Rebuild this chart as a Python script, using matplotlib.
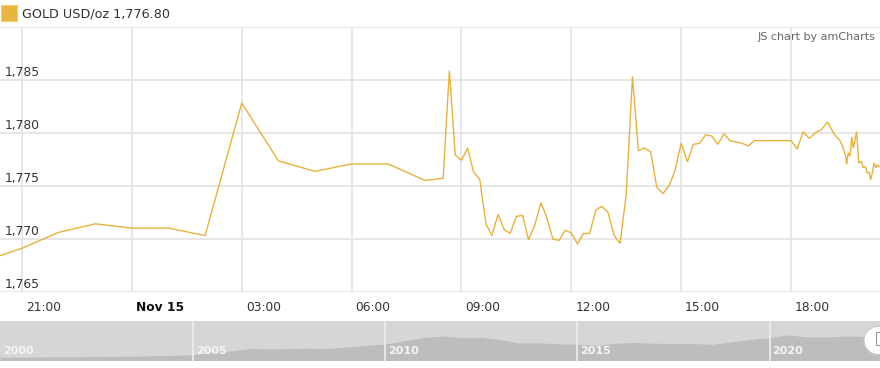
import matplotlib
matplotlib.use("Agg")
import matplotlib.pyplot as plt
from matplotlib import transforms
from matplotlib.patches import Ellipse, Rectangle

# ---- main series: hours relative to Nov 15 00:00, price USD/oz ----
hours = [-3.6, -3.0, -2.0, -1.0, 0.0, 1.0, 2.0, 3.0, 4.0, 5.0, 6.0, 7.0, 8.0, 8.5,
         8.67, 8.83, 9.0, 9.17, 9.33, 9.5, 9.67, 9.83, 10.0, 10.17, 10.33, 10.5,
         10.67, 10.83, 11.0, 11.17, 11.33, 11.5, 11.67, 11.83, 12.0, 12.17, 12.33,
         12.5, 12.67, 12.83, 13.0, 13.17, 13.33, 13.5, 13.67, 13.83, 14.0, 14.17,
         14.33, 14.5, 14.67, 14.83, 15.0, 15.17, 15.33, 15.5, 15.67, 15.83, 16.0,
         16.17, 16.33, 16.67, 16.83, 17.0, 18.0, 18.17, 18.33, 18.5, 18.67, 18.83,
         19.0, 19.17, 19.33, 19.41, 19.49, 19.52, 19.56, 19.61, 19.66, 19.70, 19.74,
         19.79, 19.85, 19.92, 19.97, 20.03, 20.08, 20.14, 20.17, 20.23, 20.27, 20.32,
         20.36, 20.41]
prices = [1768.4, 1769.1, 1770.6, 1771.4, 1771.0, 1771.0, 1770.3, 1782.8, 1777.35,
          1776.35, 1777.05, 1777.05, 1775.5, 1775.7, 1785.85, 1777.9, 1777.4,
          1778.55, 1776.3, 1775.6, 1771.4, 1770.3, 1772.3, 1770.85, 1770.5, 1772.1,
          1772.2, 1769.9, 1771.25, 1773.4, 1772.0, 1769.95, 1769.85, 1770.8,
          1770.55, 1769.5, 1770.5, 1770.5, 1772.7, 1773.05, 1772.5, 1770.3,
          1769.55, 1774.15, 1785.3, 1778.3, 1778.55, 1778.2, 1774.9, 1774.25,
          1775.0, 1776.4, 1779.0, 1777.25, 1778.9, 1779.0, 1779.8, 1779.7, 1778.9,
          1779.9, 1779.25, 1779.0, 1778.75, 1779.25, 1779.25, 1778.45, 1780.1,
          1779.45, 1780.0, 1780.3, 1781.0, 1779.9, 1779.3, 1778.7, 1777.8, 1777.0,
          1778.1, 1777.8, 1779.6, 1778.55, 1779.2, 1780.1, 1777.15, 1777.3, 1776.7,
          1776.8, 1776.2, 1776.25, 1775.55, 1776.35, 1777.15, 1776.7, 1776.95,
          1776.8]

x_ticks = [-3, 0, 3, 6, 9, 12, 15, 18]
x_tick_labels = ["21:00", "Nov 15", "03:00", "06:00", "09:00", "12:00", "15:00", "18:00"]
y_ticks = [1765, 1770, 1775, 1780, 1785]
y_grid_top = 1790

# ---- scrollbar overview series (year, price) ----
sb_years = [2000, 2001, 2002, 2003, 2004, 2005, 2005.5, 2006, 2006.5, 2007, 2008,
            2008.5, 2009, 2009.5, 2010, 2010.5, 2011, 2011.5, 2012, 2012.5, 2013,
            2013.5, 2014, 2014.5, 2015, 2015.5, 2016, 2016.5, 2017, 2018, 2018.5,
            2019, 2019.5, 2020, 2020.5, 2021, 2021.5, 2022, 2022.5, 2022.9]
sb_prices = [285, 292, 314, 350, 386, 458, 660, 732, 912, 876, 934, 912, 1020, 1128,
             1237, 1453, 1705, 1813, 1705, 1720, 1561, 1309, 1323, 1251, 1222, 1143,
             1287, 1345, 1287, 1273, 1215, 1381, 1561, 1705, 1886, 1742, 1742, 1814,
             1778, 1742]
sb_year_labels = [2000, 2005, 2010, 2015, 2020]

LINE = "#e8b23a"
GRID = "#e4e4e4"
TXT = "#333333"
FS = 8.8

W, H = 880, 368
fig = plt.figure(figsize=(W / 100, H / 100), dpi=100)
fig.patch.set_facecolor("white")

# main axes: pixel y 26.7 .. 291.7
ax = fig.add_axes([0, (H - 291.7) / H, 1, (291.7 - 26.7) / H])
ax.set_xlim(-3.602, 20.43)
ax.set_ylim(1765, y_grid_top)
for s in ax.spines.values():
    s.set_visible(False)
ax.set_xticks(x_ticks)
ax.set_yticks(y_ticks + [y_grid_top])
ax.tick_params(length=0, labelbottom=False, labelleft=False)
ax.grid(True, color=GRID, lw=1.3)
ax.set_axisbelow(True)
ax.plot(hours, prices, color=LINE, lw=1.0, solid_joinstyle="miter", clip_on=True)

ytr = transforms.offset_copy(ax.get_yaxis_transform(), fig=fig, x=5, y=0.5, units="dots")
for v in y_ticks:
    ax.text(0, v, f"{v:,}", transform=ytr, ha="left", va="bottom",
            fontsize=FS, color=TXT)

xtr = transforms.offset_copy(ax.get_xaxis_transform(), fig=fig, x=4, y=-16, units="dots")
for t, lab in zip(x_ticks, x_tick_labels):
    ax.text(t, 0, lab, transform=xtr, ha="left", va="center", fontsize=FS,
            color="#111111" if lab.startswith("Nov") else TXT,
            fontweight="bold" if lab.startswith("Nov") else "normal", clip_on=False)

# legend
fig.patches.append(Rectangle((1 / W, (H - 21) / H), 16 / W, 16 / H, transform=fig.transFigure,
                             facecolor="#e8b63f", edgecolor="#f0cf7a", lw=0.8))
fig.text(22 / W, (H - 14) / H, f"GOLD USD/oz {prices[-1]:,.2f}", ha="left", va="center",
         fontsize=9.2, color=TXT)
fig.text(875 / W, (H - 37) / H, "JS chart by amCharts", ha="right", va="center",
         fontsize=8, color="#666666")

# scrollbar: pixel y 320.7 .. 360.7
ax2 = fig.add_axes([0, (H - 360.7) / H, 1, 40 / H])
ax2.set_facecolor("#d6d6d6")
ax2.set_xlim(1999.99, 2022.87)
ax2.set_ylim(70, 2950)
for s in ax2.spines.values():
    s.set_visible(False)
ax2.set_xticks([])
ax2.set_yticks([])
ax2.fill_between(sb_years, sb_prices, 0, color="#bdbdbd", lw=0)
for yr in sb_year_labels[1:]:
    ax2.axvline(yr, color="#ececec", lw=1.3)
ltr = transforms.offset_copy(ax2.get_xaxis_transform(), fig=fig, x=3, y=0, units="dots")
for yr in sb_year_labels:
    ax2.text(yr, 0.25, str(yr), transform=ltr, ha="left", va="center",
             fontsize=8, fontweight="bold", color="#f4f4f4")

# scrollbar grip at right edge
fig.patches.append(Ellipse((878 / W, (H - 340.5) / H), 28 / W, 28 / H, transform=fig.transFigure,
                           facecolor="white", edgecolor="#c8c8c8", lw=0.8, zorder=5))
fig.patches.append(Rectangle((876 / W, (H - 345) / H), 8 / W, 13 / H, transform=fig.transFigure,
                             facecolor="white", edgecolor="#9a9a9a", lw=0.8, zorder=6))

fig.savefig("out.png", dpi=100, facecolor="white")
